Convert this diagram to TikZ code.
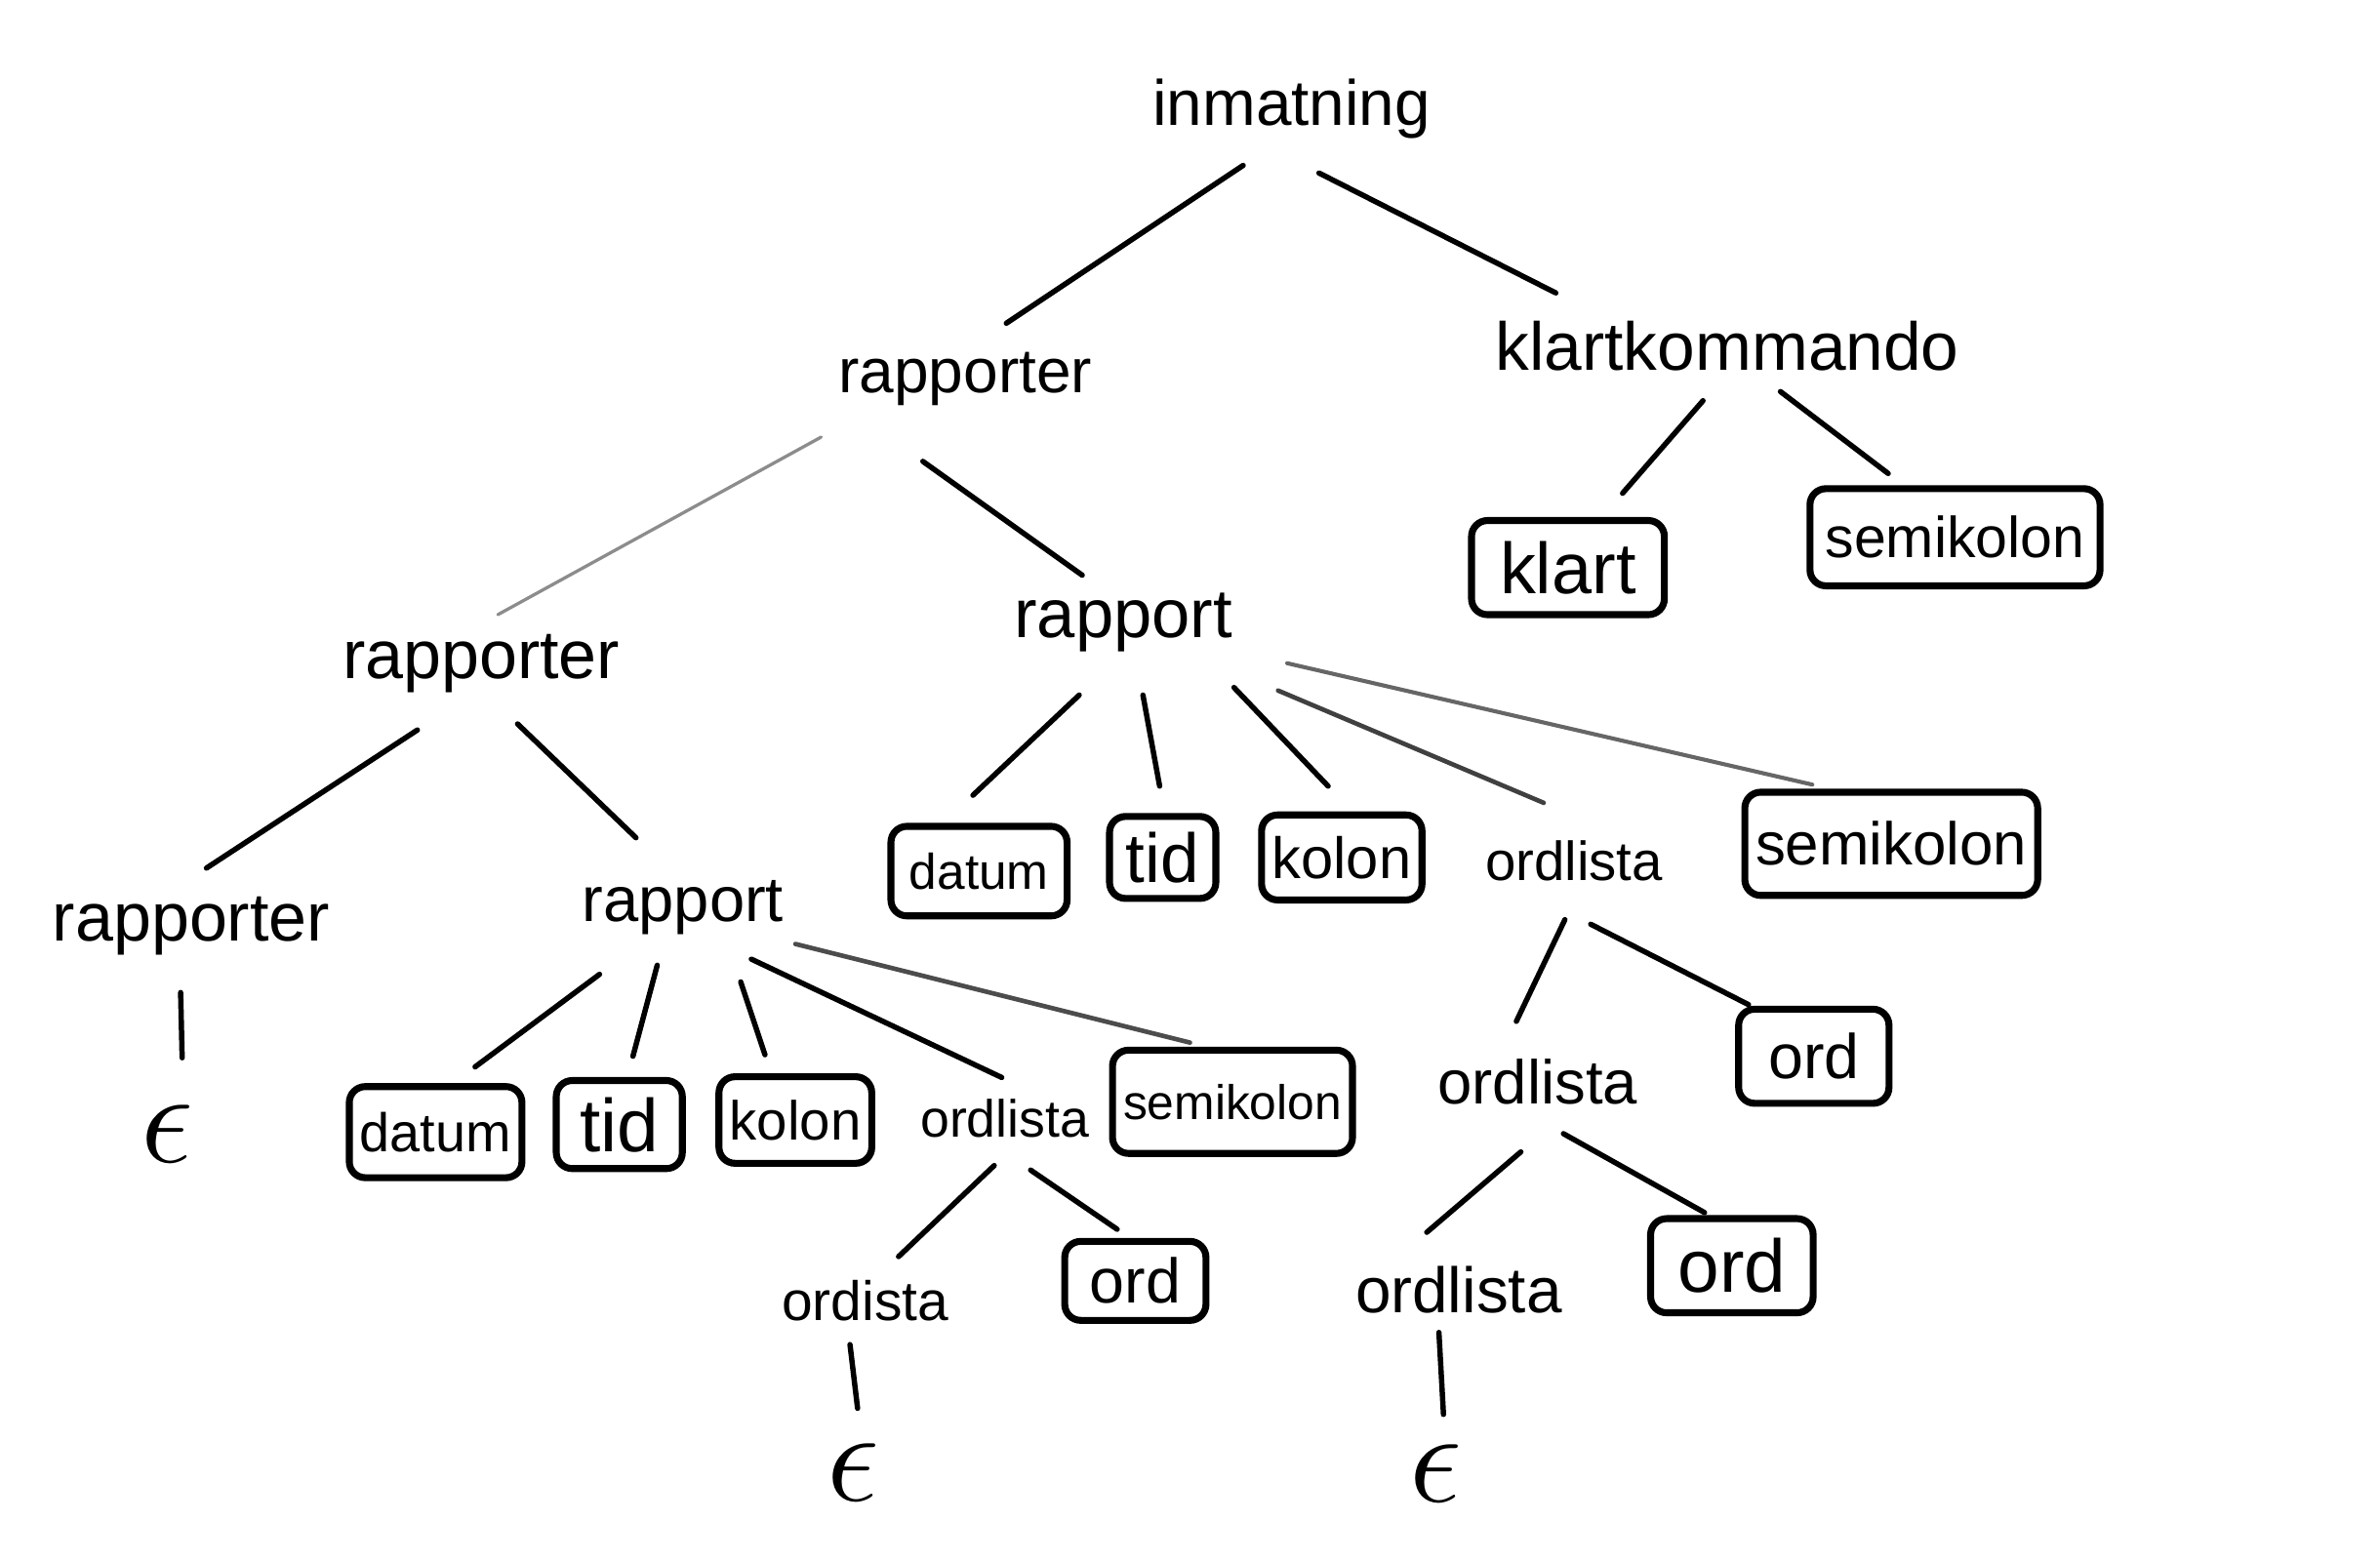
\documentclass[tikz,border=0pt]{standalone}
\usepackage{fontspec}
\setmainfont{Liberation Sans}
\usetikzlibrary{calc}
\newcommand{\myfs}[1]{\fontsize{#1}{#1}\selectfont}
\begin{document}
\begin{tikzpicture}[x=0.01cm,y=-0.01cm,
  lbl/.style={inner sep=4pt, font=\myfs{12}},
  term/.style={draw, line width=1.3pt, rounded corners=3pt, inner sep=2pt},
  eps/.style={inner sep=4pt, font=\myfs{25}},
  edge/.style={line width=1pt, line cap=round},
  faint/.style={edge, draw=black!45, line width=0.6pt}]
\useasboundingbox (0,0) rectangle (1568,1029);
% nonterminals
\node[lbl, font=\myfs{12}] (inm) at (851,72) {inmatning};
\node[lbl, font=\myfs{11.7}] (rap1) at (636,250) {rapporter};
\node[lbl, font=\myfs{12.7}] (kk) at (1138,228) {klartkommando};
\node[lbl, font=\myfs{12.9}] (rapm) at (740,410) {rapport};
\node[lbl, font=\myfs{12.8}] (rap3) at (317,437) {rapporter};
\node[lbl, font=\myfs{10.3}] (ordl1) at (1037,567) {ordlista};
\node[lbl, font=\myfs{12.8}] (rapL) at (126,610) {rapporter};
\node[lbl, font=\myfs{11.9}] (rapl) at (450,598) {rapport};
\node[lbl, font=\myfs{9.8}] (ordl2) at (662,737) {ordlista};
\node[lbl, font=\myfs{11.6}] (ordl3) at (1013,713) {ordlista};
\node[lbl, font=\myfs{10.4}] (ordista) at (570,857) {ordista};
\node[lbl, font=\myfs{12}] (ordl4) at (961,850) {ordlista};
% epsilons
\node[eps] (epsL) at (110,747) {$\epsilon$};
\node[eps] (eps2) at (562,970) {$\epsilon$};
\node[eps] (eps3) at (946,971) {$\epsilon$};
% terminals
\node[term, minimum width=1.27cm, minimum height=0.62cm, font=\myfs{13.5}] (klart) at (1033,374) {klart};
\node[term, minimum width=1.91cm, minimum height=0.64cm, font=\myfs{10.8}] (semi1) at (1288,354) {semikolon};
\node[term, minimum width=1.16cm, minimum height=0.59cm, font=\myfs{9.4}] (datum1) at (645,574) {datum};
\node[term, minimum width=0.70cm, minimum height=0.54cm, font=\myfs{13}] (tid1) at (766,565) {tid};
\node[term, minimum width=1.02cm, minimum height=0.56cm, font=\myfs{10.9}] (kolon1) at (884,565) {kolon};
\node[term, minimum width=1.87cm, minimum height=0.68cm, font=\myfs{11.3}] (semi2) at (1246,556) {semikolon};
\node[term, minimum width=1.13cm, minimum height=0.60cm, font=\myfs{10.2}] (datum2) at (287,746) {datum};
\node[term, minimum width=0.83cm, minimum height=0.58cm, font=\myfs{14}] (tid2) at (408,741) {tid};
\node[term, minimum width=0.98cm, minimum height=0.57cm, font=\myfs{10.3}] (kolon2) at (524,738) {kolon};
\node[term, minimum width=1.55cm, minimum height=0.68cm, font=\myfs{9.1}] (semi3) at (812,726) {semikolon};
\node[term, minimum width=0.99cm, minimum height=0.62cm, font=\myfs{11.8}] (ord1) at (1195,696) {ord};
\node[term, minimum width=0.93cm, minimum height=0.52cm, font=\myfs{11.8}] (ord2) at (748,844) {ord};
\node[term, minimum width=1.07cm, minimum height=0.62cm, font=\myfs{14}] (ord3) at (1141,834) {ord};
% edges
\draw[edge] ($(inm)+(-32,37)$) -- ($(rap1)+(27,-37)$);
\draw[edge] ($(inm)+(18,42)$) -- ($(kk)+(-113,-35)$);
\draw[faint] ($(rap1)+(-95,38)$) -- ($(rap3)+(11,-32)$);
\draw[edge] ($(rap1)+(-28,54)$) -- ($(rapm)+(-27,-31)$);
\draw[edge] ($(kk)+(-16,36)$) -- ($(klart)+(36,-49)$);
\draw[edge] ($(kk)+(35,30)$) -- ($(semi1)+(-44,-42)$);
\draw[edge] ($(rap3)+(-42,44)$) -- ($(rapL)+(10,-38)$);
\draw[edge] ($(rap3)+(24,40)$) -- ($(rapl)+(-31,-46)$);
\draw[edge] ($(rapm)+(-29,48)$) -- ($(datum1)+(-4,-50)$);
\draw[edge] ($(rapm)+(13,48)$) -- ($(tid1)+(-2,-47)$);
\draw[edge] ($(rapm)+(73,43)$) -- ($(kolon1)+(-9,-47)$);
\draw[edge, draw=black!75, line width=0.85pt] ($(rapm)+(102,45)$) -- ($(ordl1)+(-20,-38)$);
\draw[edge, draw=black!60, line width=0.75pt] ($(rapm)+(108,27)$) -- ($(semi2)+(-52,-39)$);
\draw[edge] ($(rapL)+(-7,44)$) -- ($(epsL)+(10,-50)$);
\draw[edge] ($(rapl)+(-55,44)$) -- ($(datum2)+(26,-43)$);
\draw[edge] ($(rapl)+(-17,38)$) -- ($(tid2)+(9,-45)$);
\draw[edge] ($(rapl)+(38,49)$) -- ($(kolon2)+(-20,-43)$);
\draw[edge] ($(rapl)+(45,34)$) -- ($(ordl2)+(-2,-27)$);
\draw[edge, draw=black!70, line width=0.85pt] ($(rapl)+(74,24)$) -- ($(semi3)+(-28,-39)$);
\draw[edge] ($(ordl1)+(-6,39)$) -- ($(ordl3)+(-14,-40)$);
\draw[edge] ($(ordl1)+(11,42)$) -- ($(ord1)+(-43,-34)$);
\draw[edge] ($(ordl2)+(-7,31)$) -- ($(ordista)+(22,-29)$);
\draw[edge] ($(ordl2)+(17,34)$) -- ($(ord2)+(-12,-34)$);
\draw[edge] ($(ordl3)+(-11,46)$) -- ($(ordl4)+(-21,-38)$);
\draw[edge] ($(ordl3)+(17,34)$) -- ($(ord3)+(-18,-35)$);
\draw[edge] ($(ordista)+(-10,29)$) -- ($(eps2)+(3,-42)$);
\draw[edge] ($(ordl4)+(-13,28)$) -- ($(eps3)+(5,-39)$);
\end{tikzpicture}
\end{document}
